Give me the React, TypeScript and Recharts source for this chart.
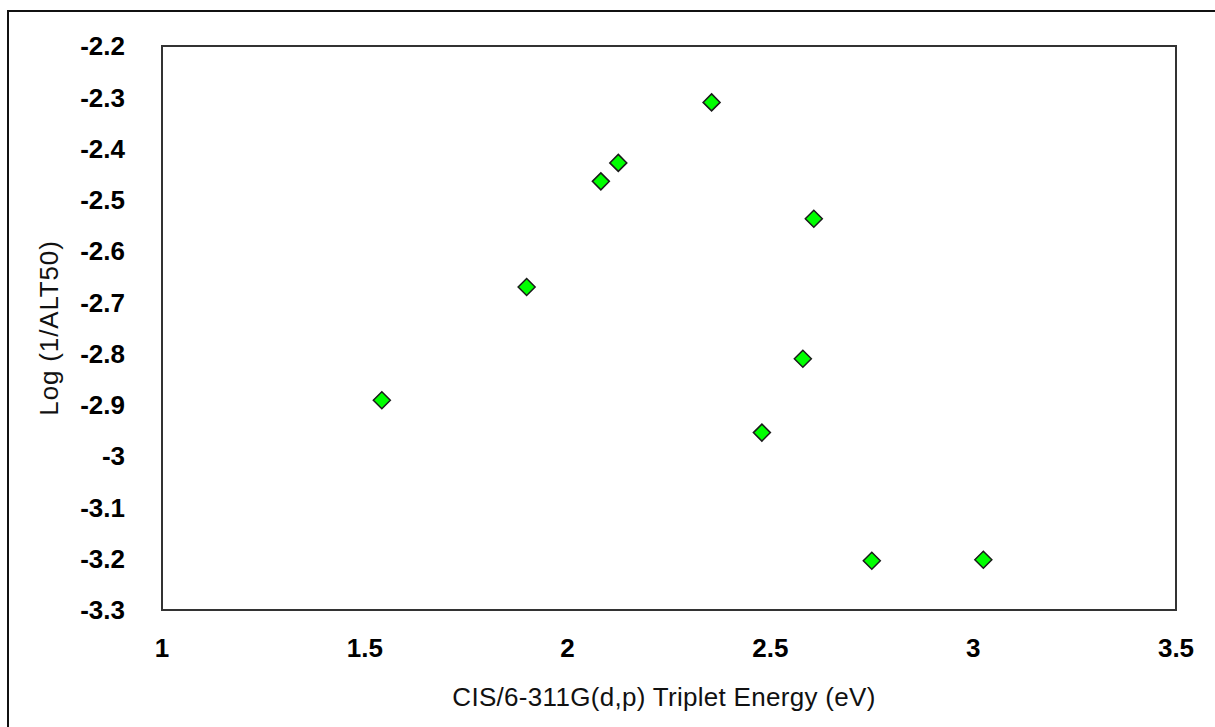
import React from 'react';
import { ScatterChart, Scatter, XAxis, YAxis, ReferenceArea } from 'recharts';

const xValues = [1.542, 1.899, 2.082, 2.125, 2.355, 2.607, 2.58, 2.479, 2.75, 3.025];
const yValues = [-2.891, -2.67, -2.464, -2.428, -2.31, -2.537, -2.81, -2.954, -3.204, -3.202];
const xTicks = [1, 1.5, 2, 2.5, 3, 3.5];
const yTicks = [-3.3, -3.2, -3.1, -3.0, -2.9, -2.8, -2.7, -2.6, -2.5, -2.4, -2.3, -2.2];
const xTitle = 'CIS/6-311G(d,p) Triplet Energy (eV)';
const yTitle = 'Log (1/ALT50)';

const data = xValues.map((x, i) => ({ x, y: yValues[i] }));

const FONT = '"Liberation Sans", Arial, sans-serif';

const Diamond = (props: any) => {
  const { cx, cy } = props;
  const r = 8.5;
  return (
    <polygon
      points={`${cx},${cy - r} ${cx + r},${cy} ${cx},${cy + r} ${cx - r},${cy}`}
      fill="#00ff00"
      stroke="#1a1a1a"
      strokeWidth={1.5}
    />
  );
};

const fmt = (v: number) => String(Number(v.toFixed(1)));

export default function App() {
  return (
    <div style={{ position: 'fixed', left: 0, top: 0, width: 1215, height: 727, overflow: 'hidden', background: '#fff' }}>
      <div
        style={{
          position: 'absolute',
          left: 7,
          top: 10,
          width: 1300,
          height: 800,
          borderLeft: '2px solid #111',
          borderTop: '2px solid #111',
        }}
      />
      <div style={{ position: 'absolute', left: 0, top: 0 }}>
        <ScatterChart width={1215} height={727} margin={{ top: 46, right: 39, bottom: 0, left: 0 }}>
          <XAxis
            type="number"
            dataKey="x"
            domain={[1, 3.5]}
            ticks={xTicks}
            tickFormatter={fmt}
            axisLine={false}
            tickLine={false}
            tickSize={0}
            tickMargin={29}
            height={117}
            tick={{ fill: '#000', fontFamily: FONT, fontSize: 26, fontWeight: 'bold' }}
            interval={0}
            label={{
              content: (p: any) => {
                const vb = p.viewBox || { x: 162, y: 610, width: 1014, height: 117 };
                return (
                  <text
                    x={vb.x + vb.width / 2 - 5}
                    y={vb.y + 96}
                    textAnchor="middle"
                    fontFamily={FONT}
                    fontSize={26}
                    letterSpacing={0.3}
                    fill="#111"
                  >
                    {xTitle}
                  </text>
                );
              },
            }}
          />
          <YAxis
            type="number"
            dataKey="y"
            domain={[-3.3, -2.2]}
            ticks={yTicks}
            tickFormatter={fmt}
            axisLine={false}
            tickLine={false}
            tickSize={0}
            tickMargin={37}
            width={162}
            interval={0}
            tick={{ fill: '#000', fontFamily: FONT, fontSize: 26, fontWeight: 'bold' }}
            label={{
              content: (p: any) => {
                const vb = p.viewBox || { x: 0, y: 46, width: 162, height: 564 };
                const cx = vb.x + 48.5;
                const cy = vb.y + vb.height / 2;
                return (
                  <text
                    x={cx}
                    y={cy}
                    transform={`rotate(-90, ${cx}, ${cy})`}
                    textAnchor="middle"
                    dominantBaseline="central"
                    fontFamily={FONT}
                    fontSize={26}
                    letterSpacing={0.85}
                    fill="#111"
                  >
                    {yTitle}
                  </text>
                );
              },
            }}
          />
          <ReferenceArea x1={1} x2={3.5} y1={-3.3} y2={-2.2} fill="none" fillOpacity={0} stroke="#333" strokeWidth={2} ifOverflow="visible" />
          <Scatter data={data} shape={<Diamond />} isAnimationActive={false} />
        </ScatterChart>
      </div>
    </div>
  );
}
